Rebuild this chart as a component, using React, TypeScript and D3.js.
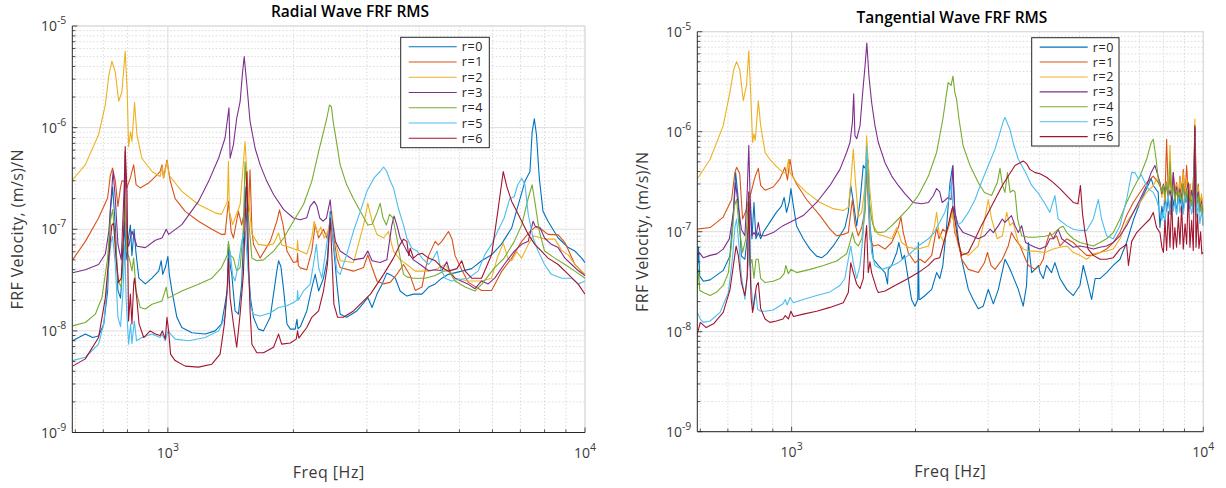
import React from 'react';
import * as d3 from 'd3';

type Pt = [number, number];

const SERIES_NAMES = ['r=0', 'r=1', 'r=2', 'r=3', 'r=4', 'r=5', 'r=6'];
const SERIES_COLORS = ['#0072BD', '#D95319', '#EDB120', '#7E2F8E', '#77AC30', '#4DBEEE', '#A2142F'];
const FREQ_DOMAIN: [number, number] = [590, 10000];
const VEL_DOMAIN: [number, number] = [1e-9, 1e-5];
const Y_TICK_EXPONENTS = [-9, -8, -7, -6, -5];
const X_TICK_EXPONENTS = [3, 4];
const PANEL_TITLES = ['Radial Wave FRF RMS', 'Tangential Wave FRF RMS'];
const X_LABEL = 'Freq [Hz]';
const Y_LABEL = 'FRF Velocity, (m/s)/N';

// ---------- Radial wave ----------
const radialR0: Pt[] = [[591,8.0e-9],[634,9.3e-9],[660,8.6e-9],[682,8.9e-9],[702,1.17e-8],[717,2.47e-8],[728,1.5e-7],[737,2.6e-7],[748,1.1e-7],[759,2.5e-8],[770,2.1e-8],[781,5.2e-8],[788,1.2e-7],[794,5e-8],[802,7.5e-8],[813,1.1e-7],[820,5.5e-8],[830,1.0e-7],[838,6e-8],[852,3.3e-8],[883,2.9e-8],[916,3.3e-8],[951,3.9e-8],[964,4.9e-8],[972,3.6e-8],[986,4.2e-8],[1000,5.4e-8],[1008,3.6e-8],[1022,2.5e-8],[1051,1.36e-8],[1080,1.08e-8],[1142,9.6e-9],[1229,9.3e-9],[1298,1.0e-8],[1345,1.17e-8],[1389,2.5e-8],[1397,7.1e-8],[1410,4.5e-8],[1423,3.6e-8],[1449,1.57e-8],[1476,1.46e-8],[1503,2.9e-8],[1517,7.6e-8],[1531,2.6e-7],[1545,1.2e-7],[1560,4e-8],[1580,2e-8],[1604,1.36e-8],[1648,1.04e-8],[1695,1.0e-8],[1759,1.36e-8],[1825,3.9e-8],[1842,4.9e-8],[1866,4.3e-8],[1895,2.5e-8],[1930,1.17e-8],[1966,1.04e-8],[2020,1.04e-8],[2039,1.3e-8],[2050,1.05e-8],[2077,1.1e-8],[2153,1.57e-8],[2213,2.65e-8],[2255,3.6e-8],[2298,2.47e-8],[2361,3.3e-8],[2413,5.2e-8],[2450,1.5e-7],[2489,7.6e-8],[2543,2.87e-8],[2588,1.46e-8],[2682,1.36e-8],[2838,1.57e-8],[2950,1.9e-8],[3015,2.13e-8],[3087,1.7e-8],[3171,2.3e-8],[3265,2.9e-8],[3349,3.7e-8],[3443,3.5e-8],[3510,3.3e-8],[3605,2.47e-8],[3740,2.2e-8],[3880,2.3e-8],[4066,2.3e-8],[4218,2.7e-8],[4374,2.9e-8],[4537,3.3e-8],[4706,3.6e-8],[5063,3.87e-8],[5350,4.1e-8],[5650,4.9e-8],[5971,5.6e-8],[6300,7.1e-8],[6672,1.03e-7],[6920,1.75e-7],[7180,2.96e-7],[7380,3.7e-7],[7470,9.1e-7],[7560,1.22e-6],[7650,8.5e-7],[7770,3.2e-7],[7930,1.5e-7],[8154,1.2e-7],[8624,8.2e-8],[9121,6.6e-8],[9458,6.1e-8],[9820,5.2e-8],[10000,4.7e-8]];
const radialR1: Pt[] = [[591,5.0e-8],[634,7.6e-8],[682,1.29e-7],[717,2.03e-7],[728,3.4e-7],[737,4.0e-7],[748,3.0e-7],[759,1.68e-7],[770,2.6e-7],[776,3.0e-7],[788,2.96e-7],[797,2.55e-7],[813,3.2e-7],[820,3.7e-7],[828,4.3e-7],[839,2.75e-7],[858,2.55e-7],[899,2.85e-7],[933,3.3e-7],[958,3.7e-7],[968,4.3e-7],[976,3.2e-7],[995,4.8e-7],[1013,3.0e-7],[1041,2.0e-7],[1100,1.5e-7],[1184,1.2e-7],[1275,1.0e-7],[1345,8.9e-8],[1371,8.9e-8],[1397,1.88e-7],[1418,9.5e-8],[1436,8.2e-8],[1476,1.5e-7],[1503,1.1e-7],[1531,1.6e-7],[1560,1.5e-7],[1574,3.85e-7],[1590,1.0e-7],[1604,7.1e-8],[1664,5.2e-8],[1759,7.6e-8],[1825,1.2e-7],[1852,1.55e-7],[1888,1.11e-7],[1930,6.1e-8],[2000,4.7e-8],[2040,4.8e-8],[2046,5.8e-8],[2055,4.4e-8],[2077,4.17e-8],[2153,4.0e-8],[2213,6.1e-8],[2255,1.11e-7],[2298,8.2e-8],[2361,1.0e-7],[2404,8.2e-8],[2450,1.1e-7],[2490,9e-8],[2543,5.2e-8],[2588,4.2e-8],[2786,3.87e-8],[2945,4.2e-8],[3015,5.6e-8],[3087,4.2e-8],[3171,3.1e-8],[3290,2.9e-8],[3410,3.0e-8],[3540,3.6e-8],[3672,4.5e-8],[3810,3.5e-8],[3918,2.5e-8],[4066,2.7e-8],[4140,4.0e-8],[4218,5.5e-8],[4374,7.6e-8],[4450,7.0e-8],[4537,7.6e-8],[4706,9.5e-8],[4800,8e-8],[4881,5.5e-8],[5063,4.0e-8],[5252,3.0e-8],[5650,2.5e-8],[5971,2.5e-8],[6300,3.8e-8],[6672,5.2e-8],[7050,7.6e-8],[7380,9.5e-8],[7600,1.05e-7],[7860,1.0e-7],[8154,8.9e-8],[8624,8.8e-8],[8950,7.4e-8],[9458,4.5e-8],[10000,3.5e-8]];
const radialR2: Pt[] = [[591,3.07e-7],[634,4.3e-7],[682,8.5e-7],[708,1.67e-6],[722,3.28e-6],[734,4.5e-6],[748,3.54e-6],[762,1.82e-6],[776,2.25e-6],[790,5.65e-6],[799,2.25e-6],[805,6.5e-7],[814,9.1e-7],[820,7.3e-7],[832,1.77e-6],[843,8.5e-7],[866,5.0e-7],[916,3.7e-7],[958,3.3e-7],[968,4.1e-7],[978,3.2e-7],[995,4.65e-7],[1007,3.4e-7],[1080,2.36e-7],[1184,1.75e-7],[1298,1.45e-7],[1345,1.4e-7],[1389,1.88e-7],[1397,4.65e-7],[1404,1.5e-7],[1430,1.11e-7],[1490,1.75e-7],[1531,7.3e-7],[1560,2.0e-7],[1590,9e-8],[1648,7.1e-8],[1727,6.9e-8],[1792,7.2e-8],[1842,9.2e-8],[1874,7.0e-8],[1966,6.6e-8],[2040,6.2e-8],[2046,7.8e-8],[2055,6.2e-8],[2153,5.7e-8],[2213,8.2e-8],[2242,1.2e-7],[2284,9.0e-8],[2326,1.05e-7],[2370,8.2e-8],[2428,1.0e-7],[2471,1.5e-7],[2521,7.5e-8],[2588,4.9e-8],[2786,4.7e-8],[2945,1.1e-7],[3015,1.8e-7],[3087,1.2e-7],[3171,8.9e-8],[3290,8.2e-8],[3380,9.5e-8],[3474,6.1e-8],[3605,5.0e-8],[3740,4.5e-8],[3918,3.87e-8],[4218,3.87e-8],[4374,4.0e-8],[4620,4.5e-8],[4881,3.3e-8],[5252,3.1e-8],[5650,3.1e-8],[5971,3.3e-8],[6160,5.2e-8],[6368,7.3e-8],[6530,5.2e-8],[6672,4.9e-8],[6860,6.0e-8],[7050,5.2e-8],[7311,7.1e-8],[7510,8.6e-8],[7720,8.4e-8],[8000,8.0e-8],[8460,8.0e-8],[8790,6.2e-8],[9121,5.6e-8],[9458,4.5e-8],[10000,3.6e-8]];
const radialR3: Pt[] = [[591,3.73e-8],[634,4.0e-8],[682,4.5e-8],[708,5.7e-8],[722,9.6e-8],[731,2.03e-7],[739,3.7e-7],[748,2.03e-7],[759,7.1e-8],[773,5.0e-8],[785,2.36e-7],[790,5.8e-7],[796,8.2e-8],[805,6.8e-8],[820,9.6e-8],[831,8.2e-8],[843,6.8e-8],[883,6.6e-8],[933,7.8e-8],[968,8.2e-8],[991,1.0e-7],[1004,8.9e-8],[1080,1.11e-7],[1184,1.88e-7],[1252,2.96e-7],[1323,5.0e-7],[1371,7.9e-7],[1401,1.57e-6],[1410,5.0e-7],[1436,6.8e-7],[1462,1.23e-6],[1490,1.8e-6],[1510,3.5e-6],[1524,5.0e-6],[1547,2.6e-6],[1574,1.15e-6],[1618,6.3e-7],[1664,4.3e-7],[1727,2.96e-7],[1792,2.2e-7],[1895,1.56e-7],[2000,1.29e-7],[2077,1.24e-7],[2153,1.3e-7],[2193,1.68e-7],[2242,1.88e-7],[2276,1.7e-7],[2313,1.29e-7],[2355,1.2e-7],[2400,1.29e-7],[2450,1.95e-7],[2471,1.29e-7],[2521,7.6e-8],[2588,6.1e-8],[2786,5.0e-8],[2945,5.2e-8],[3015,6.1e-8],[3087,4.9e-8],[3228,4.7e-8],[3349,5.0e-8],[3443,1.1e-7],[3485,1.35e-7],[3540,1.1e-7],[3605,8.2e-8],[3740,6.1e-8],[3880,5.0e-8],[4027,4.5e-8],[4218,3.9e-8],[4374,4.0e-8],[4537,3.9e-8],[4663,4.8e-8],[4750,3.7e-8],[4881,3.3e-8],[5252,2.87e-8],[5450,2.6e-8],[5650,3.1e-8],[5860,2.9e-8],[6075,3.3e-8],[6400,4.5e-8],[6770,6.1e-8],[7050,7.1e-8],[7311,7.6e-8],[7510,1.2e-7],[7600,1.07e-7],[7800,1.04e-7],[8000,8.2e-8],[8300,7.1e-8],[8624,6.6e-8],[8950,5.2e-8],[9290,4.5e-8],[9640,3.9e-8],[10000,3.5e-8]];
const radialR4: Pt[] = [[591,1.12e-8],[634,1.21e-8],[670,1.46e-8],[695,2.13e-8],[717,5.2e-8],[728,1.2e-7],[737,1.56e-7],[748,8.2e-8],[759,3.1e-8],[773,2.7e-8],[783,9.6e-8],[789,2.2e-7],[796,6.1e-8],[808,5.2e-8],[820,3.9e-8],[828,5.2e-8],[839,2.5e-8],[858,1.7e-8],[883,1.64e-8],[916,1.83e-8],[968,1.97e-8],[991,2.7e-8],[1000,2.1e-8],[1080,2.47e-8],[1184,2.87e-8],[1275,3.3e-8],[1345,4.2e-8],[1389,5.6e-8],[1397,7.6e-8],[1410,5.6e-8],[1436,5.2e-8],[1462,3.9e-8],[1490,4.2e-8],[1517,1.03e-7],[1531,4.6e-7],[1560,1.3e-7],[1590,5.2e-8],[1634,4.9e-8],[1695,5.0e-8],[1792,6.1e-8],[1895,8.2e-8],[2000,1.2e-7],[2114,1.75e-7],[2213,2.96e-7],[2298,5.8e-7],[2361,9.1e-7],[2404,1.23e-6],[2440,1.67e-6],[2467,1.6e-6],[2490,1.15e-6],[2543,6.8e-7],[2588,4.3e-7],[2682,2.75e-7],[2786,2.0e-7],[2893,1.5e-7],[3015,1.1e-7],[3087,1.12e-7],[3171,1.45e-7],[3228,1.8e-7],[3278,1.3e-7],[3340,1.1e-7],[3400,1.4e-7],[3460,1.3e-7],[3540,8.2e-8],[3605,5.2e-8],[3672,3.6e-8],[3740,3.4e-8],[3880,3.3e-8],[4140,3.3e-8],[4374,3.5e-8],[4580,3.87e-8],[4706,3.9e-8],[4881,3.1e-8],[5160,2.7e-8],[5450,2.47e-8],[5650,2.87e-8],[6075,4.2e-8],[6400,5.2e-8],[6770,7.6e-8],[7050,1.1e-7],[7311,2.03e-7],[7470,2.74e-7],[7600,1.75e-7],[7770,9.6e-8],[8000,6.1e-8],[8460,5.2e-8],[8950,4.5e-8],[9458,3.87e-8],[10000,3.3e-8]];
const radialR5: Pt[] = [[591,5.1e-9],[634,5.5e-9],[682,7.4e-9],[702,1.17e-8],[720,3.87e-8],[729,7.1e-8],[737,8.5e-8],[748,4.5e-8],[759,1.36e-8],[770,1.1e-8],[781,2.5e-8],[788,7.1e-8],[794,2.1e-8],[805,7.4e-9],[814,1.17e-8],[820,7.5e-9],[831,1.25e-8],[841,8e-9],[866,8.6e-9],[916,9.3e-9],[958,8.6e-9],[968,9.3e-9],[986,8.0e-9],[1000,1.0e-8],[1041,8.3e-9],[1121,8.0e-9],[1229,8.6e-9],[1323,1.0e-8],[1371,1.36e-8],[1397,3.3e-8],[1410,6.1e-8],[1430,3.5e-8],[1449,3.1e-8],[1476,4.5e-8],[1503,7.6e-8],[1531,9.6e-8],[1551,5.0e-8],[1580,1.7e-8],[1604,1.46e-8],[1664,1.4e-8],[1759,1.5e-8],[1842,1.7e-8],[1930,1.77e-8],[2000,1.9e-8],[2040,2.0e-8],[2046,2.5e-8],[2055,2.0e-8],[2114,2.47e-8],[2193,2.87e-8],[2233,4.5e-8],[2270,7.1e-8],[2298,4.2e-8],[2340,3.3e-8],[2383,5.6e-8],[2428,9.6e-8],[2460,1.4e-7],[2490,8.0e-8],[2543,3.87e-8],[2588,3.6e-8],[2682,5.6e-8],[2786,9.6e-8],[2893,1.5e-7],[3000,2.36e-7],[3120,3.2e-7],[3228,3.7e-7],[3290,4.1e-7],[3349,3.7e-7],[3410,3.0e-7],[3474,2.55e-7],[3570,1.6e-7],[3672,1.1e-7],[3740,8.2e-8],[3845,6.5e-8],[3960,6.1e-8],[4066,5.2e-8],[4218,4.5e-8],[4330,5.2e-8],[4420,6.1e-8],[4500,4.2e-8],[4620,3.3e-8],[4790,3.1e-8],[4970,3.2e-8],[5252,3.3e-8],[5540,3.87e-8],[5750,5.6e-8],[5971,7.1e-8],[6180,9.6e-8],[6400,1.29e-7],[6600,2.0e-7],[6770,2.1e-7],[6900,2.74e-7],[7050,3.18e-7],[7180,2.74e-7],[7311,1.4e-7],[7510,8.2e-8],[7720,6.1e-8],[8000,4.5e-8],[8300,3.6e-8],[8790,3.3e-8],[9290,3.3e-8],[9640,2.9e-8],[10000,3.1e-8]];
const radialR6: Pt[] = [[591,4.5e-9],[634,5.3e-9],[682,8.6e-9],[708,2.1e-8],[724,6.1e-8],[734,1.1e-7],[741,1.15e-7],[751,5.2e-8],[762,3.0e-8],[773,3.3e-8],[785,1.1e-7],[790,6.5e-7],[798,2.36e-7],[805,1.25e-8],[813,2.3e-8],[820,1.17e-8],[828,2.9e-8],[832,3.3e-8],[843,2.0e-8],[853,1.17e-8],[875,8.6e-9],[907,1.0e-8],[933,9.3e-9],[958,9.0e-9],[970,1.0e-8],[986,8.3e-9],[995,1.36e-8],[1004,1.0e-8],[1015,5.9e-9],[1041,5.1e-9],[1100,4.5e-9],[1184,4.4e-9],[1275,4.7e-9],[1334,5.9e-9],[1366,1.17e-8],[1389,2.87e-8],[1397,5.2e-8],[1410,2.1e-8],[1436,1.17e-8],[1462,6.9e-9],[1490,1.46e-8],[1517,3.6e-8],[1547,3.7e-7],[1560,5.2e-8],[1574,1.6e-8],[1590,7.4e-9],[1634,6.1e-9],[1695,6.1e-9],[1792,6.9e-9],[1842,9.3e-9],[1874,7.4e-9],[1966,7.6e-9],[2031,8.3e-9],[2046,1.0e-8],[2060,8.5e-9],[2153,1.08e-8],[2213,1.36e-8],[2298,1.57e-8],[2361,2.47e-8],[2413,4.5e-8],[2450,1.29e-7],[2478,4.5e-8],[2500,1.83e-8],[2552,1.36e-8],[2634,1.36e-8],[2786,1.57e-8],[2945,1.97e-8],[3060,2.3e-8],[3171,2.87e-8],[3290,3.6e-8],[3474,5.2e-8],[3605,7.1e-8],[3672,8.0e-8],[3740,7.6e-8],[3780,5.5e-8],[3810,6.5e-8],[3880,5.2e-8],[3960,5.6e-8],[4066,5.8e-8],[4218,5.2e-8],[4374,4.9e-8],[4537,4.2e-8],[4706,3.87e-8],[4930,4.1e-8],[5063,4.9e-8],[5160,3.87e-8],[5350,3.3e-8],[5650,3.3e-8],[5971,5.6e-8],[6180,1.5e-7],[6368,3.7e-7],[6500,2.6e-7],[6672,1.88e-7],[6860,1.5e-7],[7050,1.2e-7],[7311,8.9e-8],[7580,7.1e-8],[7863,6.1e-8],[8154,5.2e-8],[8624,4.5e-8],[9121,3.6e-8],[9640,2.87e-8],[10000,2.3e-8]];

// ---------- Tangential wave ----------
const tangR0: Pt[] = [[590,3.9e-8],[594,7e-8],[598,3.6e-8],[610,3.2e-8],[634,3.3e-8],[682,4.1e-8],[708,5.7e-8],[722,1.56e-7],[731,3.9e-7],[742,2.1e-7],[755,5.7e-8],[770,5.3e-8],[785,1.1e-7],[792,2.0e-7],[801,8.5e-8],[810,1.96e-7],[819,8.5e-8],[830,9.8e-8],[841,8.5e-8],[855,1.0e-7],[885,1.24e-7],[918,1.56e-7],[945,1.8e-7],[959,2.2e-7],[972,1.56e-7],[987,2.0e-7],[996,2.7e-7],[1010,1.8e-7],[1028,1.14e-7],[1067,8.5e-8],[1108,6.7e-8],[1150,5.7e-8],[1184,5.5e-8],[1217,6.0e-8],[1262,7.2e-8],[1310,9.1e-8],[1347,1.1e-7],[1373,1.56e-7],[1392,2.9e-7],[1412,2.0e-7],[1439,1.14e-7],[1466,2.0e-7],[1493,4.6e-7],[1510,4.3e-7],[1521,4.9e-7],[1535,5.2e-7],[1550,1.15e-7],[1580,5.3e-8],[1624,4.6e-8],[1686,3.9e-8],[1710,3.0e-8],[1717,4.2e-8],[1750,4.6e-8],[1800,6.2e-8],[1822,7.8e-8],[1857,5.3e-8],[1880,5.8e-8],[1919,3.4e-8],[1956,2.1e-8],[1993,1.8e-8],[2025,2.1e-8],[2031,7.8e-8],[2040,2.1e-8],[2050,2.1e-8],[2109,2.3e-8],[2189,2.65e-8],[2250,3.9e-8],[2290,3.4e-8],[2330,4.6e-8],[2380,1.15e-7],[2425,3.1e-7],[2460,4.5e-7],[2490,1.7e-7],[2540,8.5e-8],[2588,5.3e-8],[2687,2.65e-8],[2760,2.1e-8],[2840,1.7e-8],[2920,1.8e-8],[3004,2.65e-8],[3090,1.9e-8],[3178,2.65e-8],[3298,5.3e-8],[3359,4.6e-8],[3420,3.9e-8],[3553,2.65e-8],[3652,1.8e-8],[3720,2.88e-8],[3760,7.8e-8],[3830,3.9e-8],[3980,4.6e-8],[4011,3.9e-8],[4085,3.4e-8],[4161,4.6e-8],[4280,3.9e-8],[4360,4.9e-8],[4486,3.4e-8],[4658,2.65e-8],[4832,2.3e-8],[5016,2.9e-8],[5110,4.6e-8],[5207,3.4e-8],[5355,2.1e-8],[5460,3.4e-8],[5610,3.4e-8],[5823,3.9e-8],[6044,4.6e-8],[6274,5.3e-8],[6512,7.8e-8],[6760,1.3e-7],[7017,1.96e-7],[7284,2.7e-7],[7470,3.4e-7],[7560,2.9e-7],[7770,2.47e-7],[7847,1.1e-7],[7930,1.8e-7],[8000,1.4e-7],[8070,2.4e-7],[8145,1.6e-7],[8220,2.2e-7],[8300,1.5e-7],[8380,2.5e-7],[8455,1.8e-7],[8530,2.3e-7],[8610,1.5e-7],[8700,2.6e-7],[8776,1.9e-7],[8860,2.3e-7],[8950,1.6e-7],[9030,2.8e-7],[9110,2.0e-7],[9200,2.3e-7],[9280,1.7e-7],[9370,2.5e-7],[9456,1.56e-7],[9540,3.2e-7],[9630,1.8e-7],[9720,2.4e-7],[9810,1.9e-7],[9900,2.2e-7],[10000,1.56e-7]];
const tangR1: Pt[] = [[590,1.06e-7],[634,1.1e-7],[682,1.4e-7],[715,2.1e-7],[728,3.9e-7],[735,4.4e-7],[748,3.8e-7],[760,1.34e-7],[774,1.6e-7],[787,2.1e-7],[797,2.47e-7],[808,3.1e-7],[816,3.6e-7],[830,4.3e-7],[841,2.9e-7],[862,2.6e-7],[902,2.8e-7],[937,3.4e-7],[963,4.4e-7],[977,3.3e-7],[991,5.3e-7],[1006,3.6e-7],[1028,3.0e-7],[1087,2.1e-7],[1172,1.45e-7],[1239,1.06e-7],[1286,9.1e-8],[1335,9.4e-8],[1373,9.8e-8],[1392,1.56e-7],[1405,2.1e-7],[1425,1.2e-7],[1452,9.1e-8],[1480,1.1e-7],[1508,1.7e-7],[1521,4.2e-7],[1530,2.5e-7],[1550,8.4e-8],[1580,7.2e-8],[1624,7.4e-8],[1686,6.7e-8],[1750,7.8e-8],[1816,1.1e-7],[1843,1.4e-7],[1867,9.8e-8],[1919,6.2e-8],[1993,4.9e-8],[2050,5.3e-8],[2109,4.9e-8],[2189,5.8e-8],[2250,1.1e-7],[2280,8.5e-8],[2330,1.06e-7],[2380,9.8e-8],[2425,1.24e-7],[2455,1.7e-7],[2490,9.8e-8],[2540,7.8e-8],[2588,5.3e-8],[2687,4.2e-8],[2840,3.9e-8],[2940,4.9e-8],[2990,6.2e-8],[3050,4.6e-8],[3119,4.2e-8],[3250,5.3e-8],[3359,7.2e-8],[3420,9.8e-8],[3488,8.5e-8],[3590,7.2e-8],[3700,5.3e-8],[3760,4.6e-8],[3903,4.2e-8],[4011,4.6e-8],[4085,5.3e-8],[4161,7.8e-8],[4240,9.8e-8],[4322,8.5e-8],[4405,9.1e-8],[4486,7.2e-8],[4658,8.5e-8],[4832,7.8e-8],[5016,6.7e-8],[5207,5.8e-8],[5405,5.8e-8],[5610,6.2e-8],[5823,6.7e-8],[6044,7.8e-8],[6274,9.8e-8],[6512,1.45e-7],[6760,1.96e-7],[7017,2.47e-7],[7284,3.1e-7],[7560,3.6e-7],[7770,3.1e-7],[7930,2.6e-7],[8000,2.9e-7],[8070,2.2e-7],[8145,8.4e-7],[8220,2.4e-7],[8300,3.6e-7],[8380,2.3e-7],[8455,3.9e-7],[8530,2.5e-7],[8610,3.1e-7],[8700,2.2e-7],[8776,3.6e-7],[8860,2.5e-7],[8940,4.2e-7],[9030,2.3e-7],[9110,4.6e-7],[9200,2.4e-7],[9280,3.0e-7],[9370,2.0e-7],[9456,3.3e-7],[9540,6.2e-7],[9630,2.0e-7],[9720,3.0e-7],[9810,1.7e-7],[9900,2.2e-7],[10000,1.3e-7]];
const tangR2: Pt[] = [[590,3.36e-7],[634,5.3e-7],[682,1.15e-6],[708,2.47e-6],[724,4.24e-6],[735,5.0e-6],[748,4.2e-6],[763,2.04e-6],[777,2.9e-6],[787,6.46e-6],[795,2.5e-6],[804,7.8e-7],[810,9.5e-7],[816,8.2e-7],[830,2.04e-6],[841,1.15e-6],[862,6.2e-7],[885,5.3e-7],[918,4.5e-7],[953,3.9e-7],[972,3.9e-7],[982,5.3e-7],[991,3.9e-7],[1028,3.1e-7],[1087,2.47e-7],[1172,1.96e-7],[1262,1.7e-7],[1335,1.63e-7],[1373,1.75e-7],[1392,3.1e-7],[1412,6.7e-7],[1427,3.4e-7],[1452,1.4e-7],[1480,1.56e-7],[1508,2.9e-7],[1521,9.1e-7],[1535,5e-7],[1550,2.47e-7],[1580,1.15e-7],[1624,9.4e-8],[1686,9.0e-8],[1750,8.5e-8],[1800,1.1e-7],[1850,7.8e-8],[1919,7.0e-8],[2031,6.7e-8],[2149,7.2e-8],[2220,1.1e-7],[2250,1.56e-7],[2280,9.8e-8],[2345,7.8e-8],[2400,1.1e-7],[2455,1.56e-7],[2490,1.06e-7],[2540,7.2e-8],[2588,6.2e-8],[2687,5.8e-8],[2840,7.2e-8],[2940,1.3e-7],[3004,2.1e-7],[3060,1.34e-7],[3160,8.5e-8],[3250,9.1e-8],[3330,1.56e-7],[3390,1.15e-7],[3450,1.24e-7],[3553,7.8e-8],[3652,6.7e-8],[3760,6.4e-8],[3903,6.4e-8],[4126,6.2e-8],[4322,6.7e-8],[4486,7.0e-8],[4658,7.2e-8],[4832,6.2e-8],[5016,5.8e-8],[5207,5.3e-8],[5405,6.0e-8],[5610,6.2e-8],[5823,6.4e-8],[6044,6.7e-8],[6274,8.5e-8],[6512,1.24e-7],[6760,1.56e-7],[7017,1.96e-7],[7284,2.47e-7],[7560,2.88e-7],[7700,3.36e-7],[7847,3.1e-7],[7930,2.2e-7],[8000,2.9e-7],[8070,2.0e-7],[8145,3.2e-7],[8220,2.3e-7],[8300,7.3e-7],[8380,2.4e-7],[8455,3.3e-7],[8530,2.2e-7],[8610,3.0e-7],[8700,2.1e-7],[8776,3.4e-7],[8860,2.2e-7],[8940,3.9e-7],[9030,2.3e-7],[9110,3.4e-7],[9200,2.2e-7],[9280,3.0e-7],[9370,2.1e-7],[9456,2.8e-7],[9540,1.34e-6],[9630,2.2e-7],[9720,2.8e-7],[9810,1.8e-7],[9900,2.4e-7],[10000,1.56e-7]];
const tangR3: Pt[] = [[590,5.8e-8],[594,6.3e-8],[610,5.5e-8],[634,5.8e-8],[658,6.0e-8],[682,6.7e-8],[706,8.5e-8],[722,1.56e-7],[731,3.1e-7],[742,1.8e-7],[755,1.06e-7],[770,9.1e-8],[780,2.5e-7],[787,7.3e-7],[792,2.5e-7],[801,9.1e-8],[810,9.8e-8],[819,9.1e-8],[830,1.24e-7],[841,9.1e-8],[862,9.1e-8],[902,9.8e-8],[953,1.15e-7],[991,1.24e-7],[1067,1.45e-7],[1150,1.96e-7],[1239,2.9e-7],[1310,4.2e-7],[1360,6.2e-7],[1386,7.8e-7],[1405,1.24e-6],[1415,2.4e-6],[1425,9.1e-7],[1439,8.5e-7],[1466,1.15e-6],[1488,2.47e-6],[1508,4.6e-6],[1523,7.7e-6],[1541,3.6e-6],[1564,1.97e-6],[1594,1.15e-6],[1624,7.8e-7],[1686,4.9e-7],[1750,3.6e-7],[1816,2.9e-7],[1884,2.4e-7],[1970,1.96e-7],[2070,1.9e-7],[2149,1.96e-7],[2210,2.3e-7],[2250,2.7e-7],[2290,2.5e-7],[2320,1.96e-7],[2355,2.05e-7],[2400,2.2e-7],[2440,2.1e-7],[2465,4.6e-7],[2490,1.56e-7],[2540,1.15e-7],[2610,9.8e-8],[2735,9.1e-8],[2840,8.5e-8],[2940,9.1e-8],[3035,1.06e-7],[3090,9.8e-8],[3178,1.15e-7],[3250,1.34e-7],[3298,1.24e-7],[3420,1.45e-7],[3488,1.15e-7],[3553,9.8e-8],[3620,1.15e-7],[3700,7.8e-8],[3790,7.4e-8],[3903,7.0e-8],[4011,6.7e-8],[4161,7.2e-8],[4240,8.5e-8],[4322,8.5e-8],[4440,1.06e-7],[4530,8.5e-8],[4658,7.8e-8],[4832,7.0e-8],[5016,7.2e-8],[5207,7.0e-8],[5405,6.7e-8],[5610,7.0e-8],[5823,7.2e-8],[6044,7.8e-8],[6274,9.1e-8],[6512,1.15e-7],[6760,1.56e-7],[7017,2.1e-7],[7284,2.9e-7],[7470,3.9e-7],[7630,4.6e-7],[7847,3.1e-7],[7930,2.4e-7],[8000,3.0e-7],[8070,2.47e-7],[8145,2.9e-7],[8220,2.2e-7],[8300,2.6e-7],[8380,2.1e-7],[8455,3.9e-7],[8530,2.2e-7],[8610,2.8e-7],[8700,2.0e-7],[8776,2.7e-7],[8860,2.1e-7],[8940,3.0e-7],[9030,1.96e-7],[9110,2.6e-7],[9190,3.1e-7],[9280,2.0e-7],[9370,2.6e-7],[9456,2.1e-7],[9540,1.1e-6],[9630,1.9e-7],[9720,2.5e-7],[9810,1.6e-7],[9900,2.0e-7],[10000,1.15e-7]];
const tangR4: Pt[] = [[590,2.7e-8],[594,4.2e-8],[598,2.6e-8],[610,2.47e-8],[634,2.3e-8],[658,2.5e-8],[682,2.9e-8],[702,3.9e-8],[715,7.8e-8],[726,1.8e-7],[735,2.1e-7],[745,1.15e-7],[760,6.2e-8],[774,8.5e-8],[787,2.47e-7],[792,4.6e-8],[801,5.3e-8],[810,3.4e-8],[819,5.3e-8],[830,5.3e-8],[841,3.4e-8],[862,3.1e-8],[902,3.2e-8],[937,3.4e-8],[959,3.8e-8],[968,4.6e-8],[982,3.8e-8],[996,4.2e-8],[1028,3.9e-8],[1108,4.2e-8],[1195,4.6e-8],[1286,5.1e-8],[1360,6.0e-8],[1386,7.8e-8],[1405,9.8e-8],[1425,7.8e-8],[1452,7.2e-8],[1480,8.5e-8],[1508,1.56e-7],[1521,6.7e-7],[1535,2.47e-7],[1564,1.34e-7],[1594,1.0e-7],[1640,9.8e-8],[1686,1.0e-7],[1750,1.15e-7],[1816,1.34e-7],[1919,1.7e-7],[2031,2.3e-7],[2149,3.6e-7],[2250,6.2e-7],[2330,1.34e-6],[2400,3.1e-6],[2440,2.9e-6],[2465,3.6e-6],[2490,2.5e-6],[2516,2.1e-6],[2550,1.34e-6],[2610,7.2e-7],[2712,4.6e-7],[2840,3.1e-7],[2940,2.47e-7],[3060,2.3e-7],[3160,3.1e-7],[3207,4.3e-7],[3253,2.9e-7],[3298,2.47e-7],[3345,3.9e-7],[3395,2.47e-7],[3450,2.6e-7],[3488,2.5e-7],[3540,1.34e-7],[3620,9.1e-8],[3760,8.8e-8],[3903,8.8e-8],[4126,9.0e-8],[4322,9.5e-8],[4486,1.1e-7],[4570,1.13e-7],[4658,9.8e-8],[4832,8.5e-8],[5016,7.8e-8],[5207,7.5e-8],[5405,7.2e-8],[5610,7.8e-8],[5823,8.5e-8],[6044,9.8e-8],[6274,1.34e-7],[6512,1.96e-7],[6760,2.7e-7],[7017,3.6e-7],[7284,5.3e-7],[7470,7.8e-7],[7560,8.4e-7],[7680,5.3e-7],[7770,3.4e-7],[7930,2.5e-7],[8000,2.9e-7],[8070,2.2e-7],[8145,3.1e-7],[8220,2.3e-7],[8300,5.0e-7],[8380,2.3e-7],[8455,2.9e-7],[8530,2.0e-7],[8610,2.6e-7],[8700,2.0e-7],[8776,2.5e-7],[8860,1.9e-7],[8940,3.0e-7],[9030,2.0e-7],[9110,2.6e-7],[9200,1.9e-7],[9280,2.4e-7],[9370,1.8e-7],[9456,2.3e-7],[9540,6.5e-7],[9630,1.9e-7],[9720,2.3e-7],[9810,1.56e-7],[9900,1.9e-7],[10000,1.15e-7]];
const tangR5: Pt[] = [[590,1.56e-8],[600,1.34e-8],[610,1.24e-8],[634,1.28e-8],[670,1.56e-8],[702,2.47e-8],[718,5.3e-8],[728,1.1e-7],[735,1.34e-7],[745,7.2e-8],[755,3.6e-8],[770,2.1e-8],[784,4.6e-8],[790,1.56e-7],[797,2.9e-8],[808,1.67e-8],[818,2.47e-8],[827,1.67e-8],[841,1.6e-8],[862,1.6e-8],[902,1.65e-8],[953,1.9e-8],[965,2.1e-8],[975,1.85e-8],[991,2.2e-8],[1010,1.95e-8],[1067,2.1e-8],[1150,2.3e-8],[1239,2.5e-8],[1310,2.9e-8],[1347,3.4e-8],[1373,5.3e-8],[1392,7.2e-8],[1412,4.9e-8],[1439,3.4e-8],[1466,4.6e-8],[1493,9.8e-8],[1508,3.0e-7],[1521,7.2e-7],[1541,1.56e-7],[1564,6.2e-8],[1594,4.6e-8],[1655,4.2e-8],[1717,4.4e-8],[1816,4.9e-8],[1919,5.8e-8],[2031,7.2e-8],[2149,8.5e-8],[2220,9.8e-8],[2290,1.24e-7],[2355,1.56e-7],[2410,2.1e-7],[2440,3.1e-7],[2470,1.56e-7],[2516,1.15e-7],[2588,1.24e-7],[2687,1.56e-7],[2790,2.1e-7],[2890,3.1e-7],[3004,4.6e-7],[3119,6.7e-7],[3207,9.8e-7],[3270,1.29e-6],[3298,1.39e-6],[3345,1.2e-6],[3390,1.06e-6],[3450,7.8e-7],[3553,5.3e-7],[3700,3.9e-7],[3830,2.9e-7],[3980,2.4e-7],[4126,1.9e-7],[4240,1.56e-7],[4360,2.3e-7],[4440,1.34e-7],[4658,1.15e-7],[4832,1.06e-7],[5016,1.03e-7],[5207,1.03e-7],[5405,1.34e-7],[5560,2.1e-7],[5660,1.34e-7],[5823,9.1e-8],[6044,8.5e-8],[6274,1.15e-7],[6512,2.1e-7],[6700,3.9e-7],[6820,3.9e-7],[6950,3.4e-7],[7080,3.7e-7],[7210,3.1e-7],[7350,2.7e-7],[7560,2.47e-7],[7700,2.1e-7],[7847,1.56e-7],[7930,1.3e-7],[8000,1.6e-7],[8070,1.2e-7],[8145,1.9e-7],[8220,2.3e-7],[8300,1.5e-7],[8380,2.1e-7],[8455,1.6e-7],[8530,2.0e-7],[8610,1.5e-7],[8700,2.2e-7],[8776,1.56e-7],[8860,2.0e-7],[8940,1.5e-7],[9030,2.3e-7],[9110,2.1e-7],[9200,1.6e-7],[9280,2.0e-7],[9370,1.5e-7],[9456,1.9e-7],[9540,9.0e-7],[9630,1.4e-7],[9720,1.9e-7],[9810,1.2e-7],[9900,1.6e-7],[10000,1.15e-7]];
const tangR6: Pt[] = [[590,9.5e-9],[600,1.24e-8],[620,1.1e-8],[646,1.2e-8],[682,1.56e-8],[708,2.6e-8],[722,4.6e-8],[733,7.2e-8],[742,5.8e-8],[755,3.1e-8],[770,2.3e-8],[780,3.5e-8],[787,2.5e-7],[792,5.0e-8],[797,2.2e-8],[804,1.56e-8],[813,2.2e-8],[822,2.9e-8],[830,3.1e-8],[841,1.7e-8],[862,1.34e-8],[885,1.24e-8],[918,1.28e-8],[953,1.34e-8],[965,1.45e-8],[982,1.34e-8],[996,1.6e-8],[1010,1.42e-8],[1067,1.5e-8],[1150,1.6e-8],[1239,1.75e-8],[1335,1.95e-8],[1373,2.47e-8],[1392,4.9e-8],[1412,3.9e-8],[1439,3.0e-8],[1466,2.7e-8],[1493,3.4e-8],[1507,7.8e-8],[1521,1.15e-7],[1535,3.9e-8],[1550,5.0e-8],[1564,3.9e-8],[1580,3.4e-8],[1610,2.65e-8],[1624,2.47e-8],[1686,2.55e-8],[1783,2.9e-8],[1919,3.4e-8],[2031,3.9e-8],[2149,4.6e-8],[2220,5.3e-8],[2290,5.5e-8],[2355,8.5e-8],[2400,1.15e-7],[2440,1.56e-7],[2465,1.8e-7],[2490,1.34e-7],[2540,7.8e-8],[2588,5.8e-8],[2687,6.2e-8],[2790,8.5e-8],[2890,1.15e-7],[3004,1.56e-7],[3119,2.1e-7],[3250,2.9e-7],[3359,3.6e-7],[3488,4.6e-7],[3590,4.9e-7],[3652,5.1e-7],[3720,4.8e-7],[3790,4.2e-7],[3903,3.9e-7],[4011,3.8e-7],[4161,3.5e-7],[4322,3.1e-7],[4486,2.7e-7],[4658,2.3e-7],[4832,1.96e-7],[4960,1.9e-7],[5030,2.9e-7],[5090,1.5e-7],[5160,9.8e-8],[5250,6.7e-8],[5405,5.8e-8],[5610,5.3e-8],[5823,5.3e-8],[6044,5.5e-8],[6274,6.7e-8],[6512,7.5e-8],[6580,4.6e-8],[6700,8.0e-8],[6890,9.8e-8],[7150,1.15e-7],[7420,1.34e-7],[7560,1.56e-7],[7700,1.1e-7],[7847,9.8e-8],[7930,7.0e-8],[8000,6.2e-8],[8070,1.3e-7],[8145,6.5e-8],[8220,1.6e-7],[8300,7.0e-8],[8380,2.2e-7],[8455,6.7e-8],[8530,1.1e-7],[8610,7.0e-8],[8700,1.4e-7],[8776,7.5e-8],[8860,1.8e-7],[8940,6.7e-8],[9030,1.2e-7],[9110,7.5e-8],[9200,2.6e-7],[9280,7.0e-8],[9370,1.3e-7],[9456,6.5e-8],[9540,1.15e-6],[9600,7.0e-8],[9680,1.5e-7],[9760,6.8e-8],[9850,1.0e-7],[9920,6.0e-8],[10000,6.2e-8]];

const RADIAL_SERIES = [radialR0, radialR1, radialR2, radialR3, radialR4, radialR5, radialR6];
const TANGENTIAL_SERIES = [tangR0, tangR1, tangR2, tangR3, tangR4, tangR5, tangR6];

const FONT = '"Open Sans", "Noto Sans", sans-serif';

type Layout = {
  left: number; right: number; top: number; bottom: number;
  titleX: number; titleY: number; yLabelX: number;
  legend: { x: number; y: number; w: number; h: number };
};

const LAYOUTS: Layout[] = [
  { left: 72.3, right: 585, top: 26, bottom: 432.5, titleX: 350, titleY: 16.5, yLabelX: 23, legend: { x: 400.7, y: 37.3, w: 88.6, h: 110.4 } },
  { left: 697.3, right: 1203.3, top: 31.7, bottom: 431.7, titleX: 952, titleY: 23, yLabelX: 648, legend: { x: 1031.7, y: 37.7, w: 87.3, h: 108.3 } },
];

function Panel({ idx, series, title }: { idx: number; series: Pt[][]; title: string }) {
  const L = LAYOUTS[idx];
  const x = d3.scaleLog().domain(FREQ_DOMAIN).range([L.left, L.right]);
  const y = d3.scaleLog().domain(VEL_DOMAIN).range([L.bottom, L.top]);
  const line = d3.line<Pt>().x(d => x(d[0])).y(d => y(d[1]));
  const clipId = `clip-${idx}`;

  const xMinor: number[] = [];
  for (let e = 2; e <= 3; e++) for (let k = 2; k <= 9; k++) {
    const v = k * Math.pow(10, e);
    if (v > FREQ_DOMAIN[0] && v < FREQ_DOMAIN[1] && v !== 1000) xMinor.push(v);
  }
  const yMinor: number[] = [];
  for (let e = -9; e < -5; e++) for (let k = 2; k <= 9; k++) yMinor.push(k * Math.pow(10, e));

  const cx = (L.left + L.right) / 2;
  const cy = (L.top + L.bottom) / 2;
  const leg = L.legend;
  const rowH = (leg.h - 18.8) / 6;

  return (
    <g>
      <defs>
        <clipPath id={clipId}>
          <rect x={L.left} y={L.top} width={L.right - L.left} height={L.bottom - L.top} />
        </clipPath>
      </defs>
      <rect x={L.left} y={L.top} width={L.right - L.left} height={L.bottom - L.top} fill="#ffffff" />
      {xMinor.map(v => (
        <line key={`xm${v}`} x1={x(v)} x2={x(v)} y1={L.top} y2={L.bottom} stroke="#d2d2d2" strokeWidth={0.8} strokeDasharray="1.5,2" />
      ))}
      {yMinor.map(v => (
        <line key={`ym${v}`} x1={L.left} x2={L.right} y1={y(v)} y2={y(v)} stroke="#d2d2d2" strokeWidth={0.8} strokeDasharray="1.5,2" />
      ))}
      {X_TICK_EXPONENTS.map(e => (
        <line key={`xg${e}`} x1={x(Math.pow(10, e))} x2={x(Math.pow(10, e))} y1={L.top} y2={L.bottom} stroke="#dddddd" strokeWidth={1} />
      ))}
      {Y_TICK_EXPONENTS.map(e => (
        <line key={`yg${e}`} x1={L.left} x2={L.right} y1={y(Math.pow(10, e))} y2={y(Math.pow(10, e))} stroke="#dddddd" strokeWidth={1} />
      ))}
      <line x1={L.left} x2={L.right} y1={L.top} y2={L.top} stroke="#d9d9d9" strokeWidth={1} />
      <line x1={L.right} x2={L.right} y1={L.top} y2={L.bottom} stroke="#d9d9d9" strokeWidth={1} />
      <g clipPath={`url(#${clipId})`}>
        {series.map((s, i) => (
          <path key={i} d={line(s) || ''} fill="none" stroke={SERIES_COLORS[i]} strokeWidth={1.1} strokeLinejoin="round" />
        ))}
      </g>
      <line x1={L.left} x2={L.left} y1={L.top} y2={L.bottom} stroke="#262626" strokeWidth={1} />
      <line x1={L.left} x2={L.right} y1={L.bottom} y2={L.bottom} stroke="#262626" strokeWidth={1} />
      {yMinor.map(v => (
        <line key={`ytm${v}`} x1={L.left} x2={L.left + 3} y1={y(v)} y2={y(v)} stroke="#262626" strokeWidth={0.8} />
      ))}
      {Y_TICK_EXPONENTS.map(e => (
        <line key={`ytM${e}`} x1={L.left} x2={L.left + 5} y1={y(Math.pow(10, e))} y2={y(Math.pow(10, e))} stroke="#262626" strokeWidth={0.8} />
      ))}
      {xMinor.map(v => (
        <line key={`xtm${v}`} x1={x(v)} x2={x(v)} y1={L.bottom} y2={L.bottom - 3} stroke="#262626" strokeWidth={0.8} />
      ))}
      {X_TICK_EXPONENTS.map(e => (
        <line key={`xtM${e}`} x1={x(Math.pow(10, e))} x2={x(Math.pow(10, e))} y1={L.bottom} y2={L.bottom - 5} stroke="#262626" strokeWidth={0.8} />
      ))}
      {Y_TICK_EXPONENTS.map(e => (
        <text key={`yl${e}`} x={L.left - 6} y={y(Math.pow(10, e)) + 5} textAnchor="end" fontFamily={FONT} fontSize={14} fill="#3a3a3a">
          <tspan>10</tspan>
          <tspan dy={-7} fontSize={10.5}>{`-${-e}`}</tspan>
        </text>
      ))}
      {X_TICK_EXPONENTS.map(e => (
        <text key={`xl${e}`} x={x(Math.pow(10, e))} y={L.bottom + 25} textAnchor="middle" fontFamily={FONT} fontSize={14} fill="#3a3a3a">
          <tspan>10</tspan>
          <tspan dy={-7} fontSize={10.5}>{`${e}`}</tspan>
        </text>
      ))}
      <text x={cx} y={L.bottom + 45} textAnchor="middle" fontFamily={FONT} fontSize={16} letterSpacing={0.5} fill="#3a3a3a">{X_LABEL}</text>
      <text transform={`translate(${L.yLabelX},${cy}) rotate(-90)`} textAnchor="middle" fontFamily={FONT} fontSize={16} letterSpacing={0.4} fill="#3a3a3a">{Y_LABEL}</text>
      <text x={L.titleX} y={L.titleY} textAnchor="middle" fontFamily={FONT} fontSize={15.5} fontWeight={600} fill="#000000">{title}</text>
      <rect x={leg.x} y={leg.y} width={leg.w} height={leg.h} fill="#ffffff" stroke="#262626" strokeWidth={1} />
      {SERIES_NAMES.map((name, i) => {
        const ry = leg.y + 9.4 + i * rowH;
        return (
          <g key={name}>
            <line x1={leg.x + 8} x2={leg.x + 56} y1={ry} y2={ry} stroke={SERIES_COLORS[i]} strokeWidth={1.1} />
            <text x={leg.x + 61} y={ry + 4.5} fontFamily={FONT} fontSize={12.5} fill="#262626" letterSpacing={0.6}>{name}</text>
          </g>
        );
      })}
    </g>
  );
}

export default function App() {
  return (
    <svg width={1226} height={488} viewBox="0 0 1226 488" style={{ display: 'block', position: 'absolute', left: 0, top: 0, background: '#ffffff' }}>
      <rect x={0} y={0} width={1226} height={488} fill="#ffffff" />
      <Panel idx={0} series={RADIAL_SERIES} title={PANEL_TITLES[0]} />
      <Panel idx={1} series={TANGENTIAL_SERIES} title={PANEL_TITLES[1]} />
    </svg>
  );
}
